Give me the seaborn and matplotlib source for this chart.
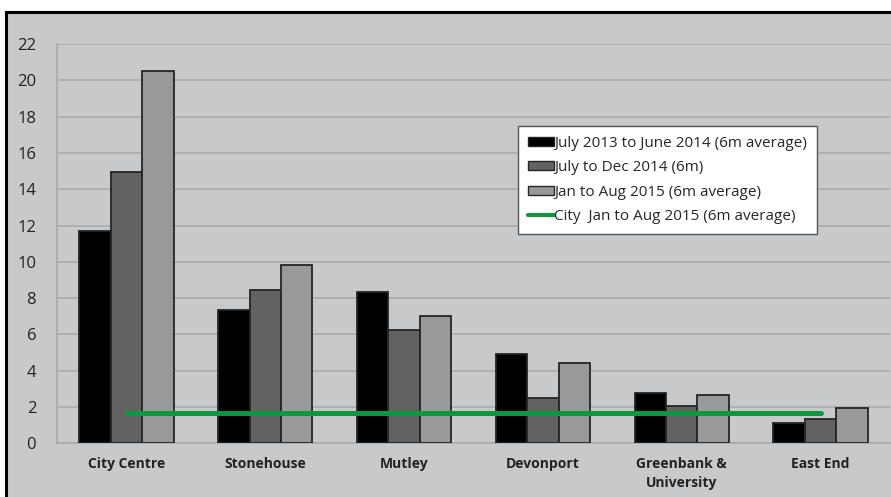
import matplotlib
matplotlib.use('Agg')
from matplotlib import pyplot as plt
from matplotlib.patches import Rectangle
from matplotlib.lines import Line2D
import pandas as pd
import seaborn as sns

# data
areas = ['City Centre', 'Stonehouse', 'Mutley', 'Devonport', 'Greenbank &\nUniversity', 'East End']
periods = ['July 2013 to June 2014 (6m average)', 'July to Dec 2014 (6m)', 'Jan to Aug 2015 (6m average)']
p1 = [11.7, 7.34, 8.35, 4.92, 2.79, 1.12]
p2 = [14.96, 8.45, 6.24, 2.48, 2.04, 1.36]
p3 = [20.53, 9.81, 7.01, 4.42, 2.68, 1.96]
city_avg = 1.65
city_label = 'City  Jan to Aug 2015 (6m average)'

df = pd.DataFrame({'Area': areas * 3,
                   'Period': [periods[0]] * 6 + [periods[1]] * 6 + [periods[2]] * 6,
                   'Value': p1 + p2 + p3})

sns.set_style('white')
plt.rcParams['font.family'] = ['Open Sans', 'DejaVu Sans']

bg = '#C8C9CB'
fig = plt.figure(figsize=(8.91, 4.97), dpi=100, facecolor='white')
# outer chart frame (cropped at right and bottom)
fig.patches.append(Rectangle((5.5 / 891, -0.05), 1.1, (497 - 12) / 497 + 0.05,
                             transform=fig.transFigure, facecolor=bg,
                             edgecolor='black', linewidth=2.2, zorder=-5))

ax = fig.add_axes([57 / 891, 53.7 / 497, 833 / 891, 399.3 / 497])
ax.set_zorder(2)
ax.set_facecolor(bg)

colors = ['#000000', '#626262', '#98999B']
sns.barplot(data=df, x='Area', y='Value', hue='Period', palette=colors,
            width=0.68, edgecolor='#252525', linewidth=1.3, saturation=1,
            legend=False, ax=ax, zorder=3)

ax.plot(range(len(areas)), [city_avg] * len(areas), color='#0E9640',
        linewidth=3.6, solid_capstyle='round', zorder=4)

ax.set_xlim(-0.5, len(areas) - 0.5)
ax.set_ylim(0, 22)
ax.set_yticks(range(0, 23, 2))
ax.yaxis.grid(True, color='#A7A8AA', linewidth=1.1, zorder=0)
ax.set_axisbelow(True)
ax.set_xlabel('')
ax.set_ylabel('')

for s in ['top', 'right']:
    ax.spines[s].set_visible(False)
for s in ['left', 'bottom']:
    ax.spines[s].set_color('#A7A8AA')
    ax.spines[s].set_linewidth(1.1)

ax.tick_params(axis='y', length=5, color='#A7A8AA', labelsize=12, labelcolor='#222222', pad=10)
ax.tick_params(axis='x', which='major', length=0, labelsize=10, labelcolor='#222222', pad=10)
ax.set_xticks([i - 0.5 for i in range(len(areas) + 1)], minor=True)
ax.tick_params(axis='x', which='minor', length=5, color='#A7A8AA')
for lab in ax.get_xticklabels():
    lab.set_fontweight('bold')
    lab.set_linespacing(1.4)

handles = [Rectangle((0, 0), 1, 1, facecolor=c, edgecolor='#252525', linewidth=1) for c in colors]
handles.append(Line2D([0], [0], color='#0E9640', linewidth=3))
leg = ax.legend(handles, periods + [city_label], loc='upper right',
                bbox_to_anchor=(0.912, 0.795), frameon=True, fancybox=False,
                fontsize=11, handlelength=1.7, handleheight=0.55, handletextpad=0.0,
                borderpad=0.65, labelspacing=0.62, borderaxespad=0)
leg.get_frame().set_edgecolor('#555555')
leg.get_frame().set_linewidth(1)
leg.get_frame().set_facecolor('white')
leg.get_frame().set_alpha(1)
leg.set_zorder(5)

fig.savefig('out.png', dpi=100, facecolor='white')
